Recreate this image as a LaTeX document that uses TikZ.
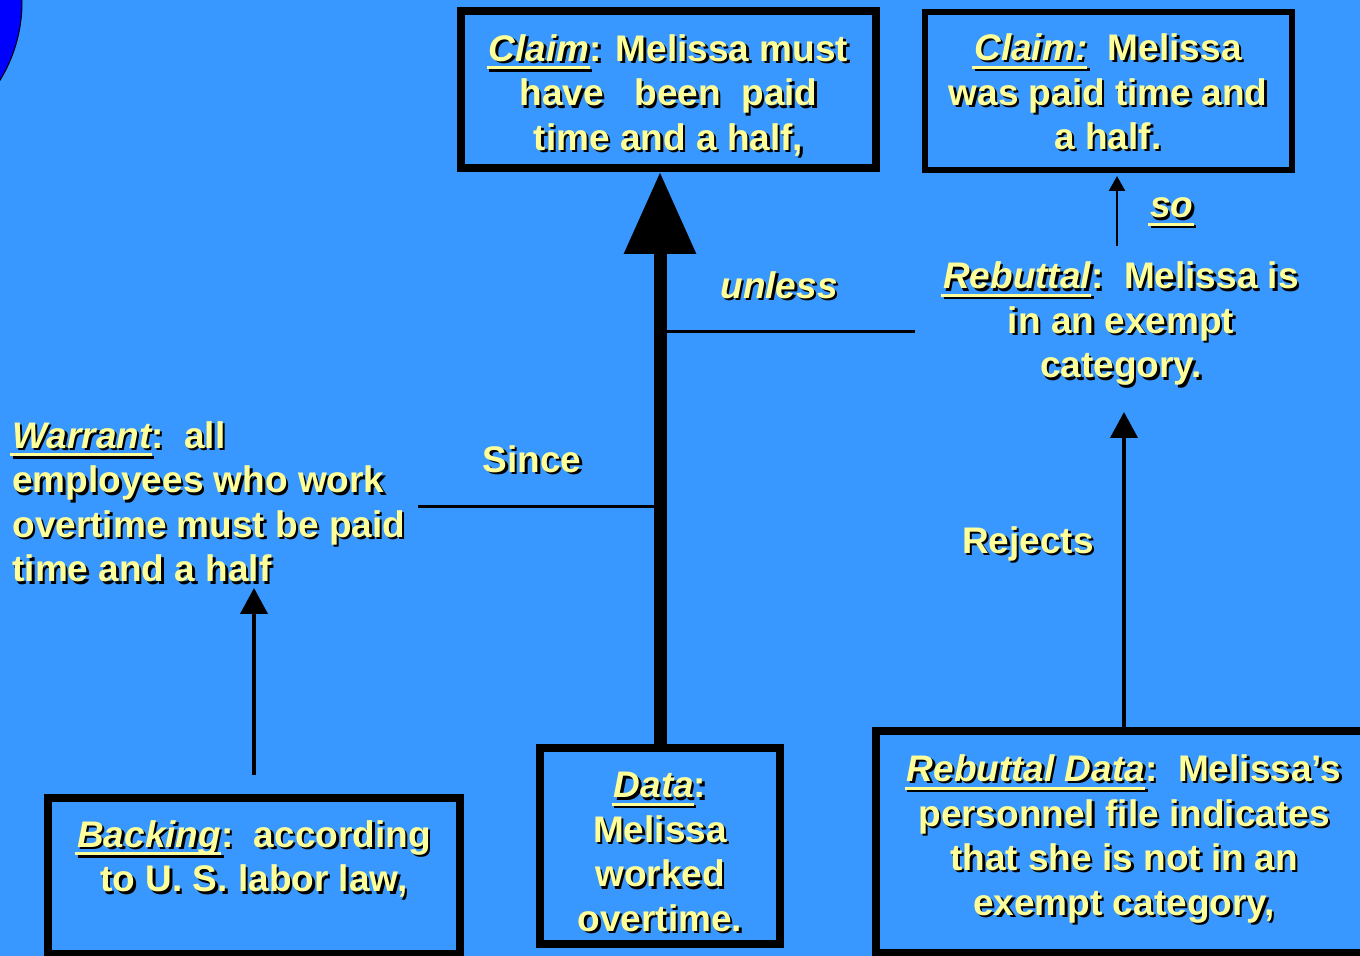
\documentclass[tikz,border=0pt]{standalone}
\usepackage{fontspec}
\setmainfont{Liberation Sans}
\usetikzlibrary{arrows.meta,positioning}
\definecolor{slidebg}{RGB}{56,152,255}
\definecolor{slidetxt}{RGB}{255,255,153}
\definecolor{orbblue}{RGB}{0,0,255}
% text with a dark drop shadow, and a thick underline
\newcommand\shad[1]{\leavevmode\rlap{\kern1.2pt\raisebox{-1.2pt}{\color{black}#1}}#1}
\newcommand\undl[1]{\setbox0\hbox{#1}\rlap{\kern-1pt\rule[-4pt]{\dimexpr\wd0+1pt\relax}{1.5pt}}\box0}

\begin{document}
\begin{tikzpicture}[x=0.5pt,y=-0.5pt,
		slidefont/.style={font=\fontsize{18.5}{22.25}\selectfont\bfseries},
		argtxt/.style={slidefont, align=center, inner sep=0pt, text=slidetxt},
		argbox/.style={draw=black, line width=4pt, inner sep=0pt},
		thinline/.style={black, line width=1.5pt},
		thinarrow/.style={black, line width=2pt, -{Triangle[length=13pt,width=13.5pt]}}
	]
	\path[use as bounding box, fill=slidebg] (0,0) rectangle (1360,956);
	\draw[fill=orbblue, line width=0.5pt] (-128,2) circle[radius=75pt];

	% boxes
	\node[argbox, minimum width=207.5pt, minimum height=78.5pt] (claimA) at (668.5,89.5) {};
	\node[argbox, line width=3pt, minimum width=183.5pt, minimum height=79pt] (claimB) at (1108,91) {};
	\node[argbox, minimum width=206pt, minimum height=78pt] (backing) at (254,876) {};
	\node[argbox, minimum width=120pt, minimum height=98pt] (data) at (660,846) {};
	\node[argbox, minimum width=248pt, minimum height=110.75pt] (rebData) at (1124,842) {};

	% box texts
	\node[argtxt] (claimAtxt) at ([yshift=-3.5pt]claimA.center)
		{\shad{\textit{\undl{Claim}}: Melissa must}\\ \shad{have\ \ \ been\ \ paid}\\ \shad{time and a half,}};
	\node[argtxt] (claimBtxt) at ([yshift=-1pt]claimB.center)
		{\shad{\textit{\undl{Claim:}}\ \ Melissa}\\ \shad{was paid time and}\\ \shad{a half.}};
	\node[argtxt, below=13pt of backing.north] (backingTxt)
		{\shad{\textit{\undl{Backing}}:\ \ according}\\ \shad{to U. S. labor law,}};
	\node[argtxt] (dataTxt) at ([yshift=-3.5pt]data.center)
		{\shad{\textit{\undl{Data}}:}\\ \shad{Melissa}\\ \shad{worked}\\ \shad{overtime.}};
	\node[argtxt] (rebDataTxt) at ([yshift=1pt]rebData.center)
		{\shad{\textit{\undl{Rebuttal Data}}:\ \ Melissa’s}\\ \shad{personnel file indicates}\\
		 \shad{that she is not in an}\\ \shad{exempt category,}};

	% free texts
	\node[argtxt, align=left, anchor=west] (warrant) at (12,503)
		{\shad{\textit{\undl{Warrant}}:\ \ all}\\ \shad{employees who work}\\
		 \shad{overtime must be paid}\\ \shad{time and a half}};
	\node[argtxt] (rebuttal) at (1121,325)
		{\shad{\textit{\undl{Rebuttal}}:\ \ Melissa is}\\ \shad{in an exempt}\\ \shad{category.}};
	\node[argtxt] (soLbl) at (1172,213) {\shad{\textit{\undl{so}}}};
	\node[argtxt] (unlessLbl) at (779,286) {\shad{\textit{unless}}};
	\node[argtxt] (sinceLbl) at (532,460) {\shad{Since}};
	\node[argtxt] (rejectsLbl) at (1028,545) {\shad{Rejects}};

	% connectors
	\coordinate (sinceEnd) at (418,507);
	\coordinate (unlessEnd) at (915,332);
	\coordinate (warrTip) at (254,588);
	\coordinate (rejTip) at (1124,412);
	\coordinate (soFoot) at (1117,246);
	\draw[thinline] (sinceEnd) -- (sinceEnd -| data.north);
	\draw[thinline] (unlessEnd) -- (unlessEnd -| data.north);
	\draw[line width=6.5pt, -{Triangle[length=41pt,width=34.5pt]}]
		(data.north) -- (data.north |- claimA.south);
	\draw[thinarrow, shorten <=9.5pt] (backing.north) -- (warrTip);
	\draw[thinarrow] (rebData.north) -- (rejTip);
	\draw[line width=1.2pt, shorten >=1.5pt, -{Triangle[length=7.5pt,width=8pt]}]
		(soFoot) -- (soFoot |- claimB.south);
\end{tikzpicture}
\end{document}
